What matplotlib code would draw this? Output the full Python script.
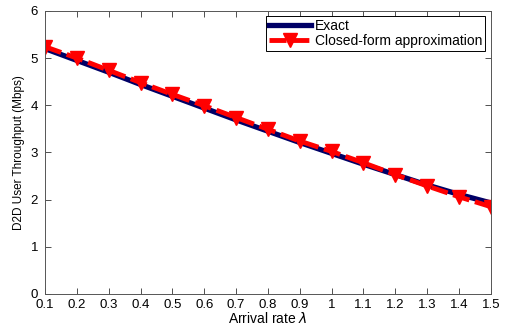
import numpy as np
import matplotlib.pyplot as plt

plt.rcParams['font.family'] = ['Liberation Sans', 'DejaVu Sans']

# Daten
arrival_rate = [0.1, 0.2, 0.3, 0.4, 0.5, 0.6, 0.7, 0.8, 0.9, 1.0, 1.1, 1.2, 1.3, 1.4, 1.5]
exact = [5.20, 4.95, 4.70, 4.44, 4.19, 3.94, 3.69, 3.45, 3.21, 2.98, 2.75, 2.53, 2.31, 2.11, 1.93]
approx = [5.24, 5.00, 4.74, 4.48, 4.23, 3.99, 3.74, 3.49, 3.24, 3.02, 2.78, 2.53, 2.29, 2.06, 1.85]

fig = plt.figure(figsize=(5.07, 3.31), dpi=100)
ax = fig.add_axes([0.089, 0.112, 0.879, 0.855])

ax.plot(arrival_rate, exact, color="#000066", linewidth=3.8, label="Exact")
ax.plot(arrival_rate, approx, color="red", linewidth=3.5, linestyle=(0, (3.5, 1.2)),
        marker="v", markersize=10, markerfacecolor="red", markeredgecolor="red",
        label="Closed-form approximation")

ax.set_xlim(0.1, 1.5)
ax.set_ylim(0, 6)
ax.set_xticks(np.arange(0.1, 1.51, 0.1))
ax.set_xticklabels(["0.1", "0.2", "0.3", "0.4", "0.5", "0.6", "0.7", "0.8", "0.9", "1",
                    "1.1", "1.2", "1.3", "1.4", "1.5"])
ax.set_yticks(range(0, 7))
ax.tick_params(direction="in", top=True, right=True, labelsize=9.5, length=4,
               width=0.6, colors="#333333", labelcolor="black")
ax.tick_params(axis="x", pad=4)
ax.tick_params(axis="y", pad=5)
for s in ax.spines.values():
    s.set_color("#555555")
    s.set_linewidth(0.7)

ax.set_xlabel("Arrival rate $\\lambda$", fontsize=10, labelpad=0)
ax.set_ylabel("D2D User Throughput (Mbps)", fontsize=8.5, labelpad=4)

leg = ax.legend(loc="upper right", fontsize=10, handlelength=3.0, handletextpad=0.3,
                borderpad=0.2, labelspacing=0.05, fancybox=False, framealpha=1,
                borderaxespad=0.4)
leg.get_frame().set_edgecolor("black")
leg.get_frame().set_linewidth(0.7)

plt.savefig("out.png", dpi=100)
